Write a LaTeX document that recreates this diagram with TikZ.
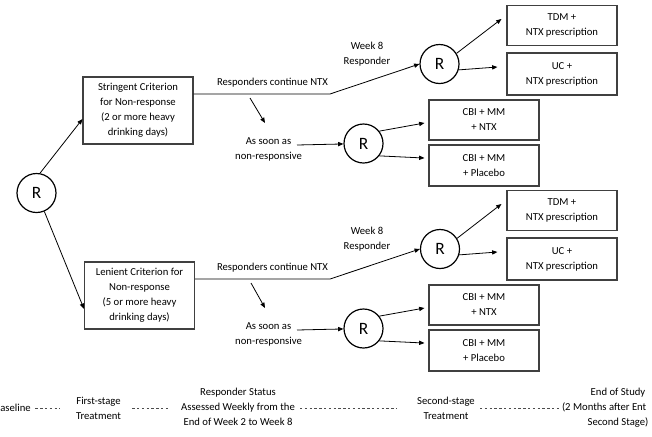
\documentclass[tikz,border=0pt]{standalone}
\usepackage{fontspec}
\setmainfont{Carlito}
\usetikzlibrary{arrows.meta}

\begin{document}
\begin{tikzpicture}[x=0.75pt,y=0.75pt,yscale=-1,xscale=1,
  font=\fontsize{8}{11.25}\selectfont,
  rnode/.style={draw,circle,line width=0.9pt,minimum size=29.25pt,inner sep=0pt,font=\fontsize{13}{15}\selectfont},
  critbox/.style={draw=black!75,line width=0.8pt,minimum width=82.5pt,minimum height=50.25pt,align=center,inner sep=0.75pt},
  armbox/.style={draw=black!75,line width=0.8pt,minimum width=82.5pt,minimum height=30pt,align=center,inner sep=0.75pt},
  lbl/.style={align=center,inner sep=0.75pt},
  arr/.style={line width=0.6pt,-{Triangle[length=4pt,width=3.2pt]}},
  tline/.style={line width=0.6pt,black!70,dash pattern=on 1.8pt off 1.8pt}
]
\useasboundingbox (0,0) rectangle (652,436);

%Shape: Circle [randomisation]
\node[rnode] (R0) at (36.5,193) {R};
% Criterion boxes
\node[critbox] (strict) at (138,110.5) {Stringent Criterion\\for Non-response\\(2 or more heavy\\drinking days)};
\node[critbox] (lenient) at (139.5,295.5) {Lenient Criterion for\\Non-response\\(5 or more heavy\\drinking days)};
\draw[arr] (R0.80) -- ([yshift=6.4pt]strict.west);
\draw[arr] (R0.-67) -- ([yshift=10pt]lenient.west);

%% stringent arm
\coordinate (bendS) at (330,94);
\coordinate (dS1) at (250,98);
\coordinate (dS2) at (265,123);
\coordinate (nrSe) at (297,145);
% Text Node
\node[lbl] (contS) at (272.5,83) {Responders continue NTX};
% Text Node
\node[lbl] (wkS) at (367,54) {Week 8\\Responder};
% Text Node
\node[lbl] (nrS) at (268.5,149.5) {As soon as\\non-responsive};
%Shape: Circle
\node[rnode] (RS1) at (439.5,64) {R};
\node[rnode] (RS2) at (363.5,143.5) {R};
% Boxes
\node[armbox] (tdmS) at (562,25.5) {TDM +\\NTX prescription};
\node[armbox,minimum height=31.5pt] (ucS) at (562,74) {UC +\\NTX prescription};
\node[armbox] (cbiS) at (484,120) {CBI + MM\\+ NTX};
\node[armbox,minimum height=30.75pt] (plaS) at (484,165.5) {CBI + MM\\+ Placebo};
%Straight Lines
\draw[arr] (strict.east |- bendS) -- (bendS) -- (RS1.west);
\draw[arr] (RS1.32) -- ([xshift=-3.75pt,yshift=-4.9pt]tdmS.west);
\draw[arr] (RS1.-17) -- ([xshift=-6.75pt,yshift=-5.25pt]ucS.west);
\draw[arr] (dS1) -- (dS2);
\draw[arr] (nrSe) -- (RS2);
\draw[arr] (RS2.38) -- ([xshift=-3pt,yshift=2.25pt]cbiS.west);
\draw[arr] (RS2.-38) -- ([xshift=-3pt,yshift=-5.6pt]plaS.west);

%% lenient arm
\coordinate (bendL) at (330,279);
\coordinate (dL1) at (251,283);
\coordinate (dL2) at (265,308);
\coordinate (nrLe) at (297,330);
% Text Node
\node[lbl] (contL) at (272.5,268) {Responders continue NTX};
% Text Node
\node[lbl] (wkL) at (367,239) {Week 8\\Responder};
% Text Node
\node[lbl] (nrL) at (268.5,334.5) {As soon as\\non-responsive};
%Shape: Circle
\node[rnode] (RL1) at (440,249) {R};
\node[rnode] (RL2) at (363.5,328.5) {R};
% Boxes
\node[armbox] (tdmL) at (562,210.5) {TDM +\\NTX prescription};
\node[armbox,minimum height=31.5pt] (ucL) at (562,259) {UC +\\NTX prescription};
\node[armbox] (cbiL) at (484,305) {CBI + MM\\+ NTX};
\node[armbox,minimum height=30.75pt] (plaL) at (484,350.5) {CBI + MM\\+ Placebo};
%Straight Lines
\draw[arr] (lenient.east |- bendL) -- (bendL) -- (RL1.west);
\draw[arr] (RL1.32) -- ([xshift=-3.75pt,yshift=-4.9pt]tdmL.west);
\draw[arr] (RL1.-17) -- ([xshift=-6.75pt,yshift=-5.25pt]ucL.west);
\draw[arr] (dL1) -- (dL2);
\draw[arr] (nrLe) -- (RL2);
\draw[arr] (RL2.38) -- ([xshift=-3pt,yshift=2.25pt]cbiL.west);
\draw[arr] (RL2.-38) -- ([xshift=-3pt,yshift=-5.6pt]plaL.west);

%% timeline
% Text Node
\node[lbl,anchor=east] (tBase) at (32,408) {aseline};
\node[lbl] (tFirst) at (98.5,408.5) {First-stage\\Treatment};
\node[lbl] (tResp) at (238,406.5) {Responder Status\\Assessed Weekly from the\\End of Week 2 to Week 8};
\node[lbl] (tSecond) at (446,408.5) {Second-stage\\Treatment};
\node[lbl] (tEnd) at (618,408) {End of Study\\\makebox[84pt][l]{(2 Months after Ent}\\Second Stage)};
%Dashed Lines
\draw[tline,shorten <=2.5pt,shorten >=11.25pt] (tBase.east) -- (tBase.east -| tFirst.west);
\draw[tline,shorten <=7.5pt,shorten >=9pt] (tFirst.east |- tBase.east) -- (tBase.east -| tResp.west);
\draw[tline,shorten <=3pt,shorten >=14.25pt] (tResp.east |- tBase.east) -- (tBase.east -| tSecond.west);
\draw[tline,shorten <=3pt] (tSecond.east |- tBase.east) -- (tBase.east -| tEnd.west);

\end{tikzpicture}
\end{document}
